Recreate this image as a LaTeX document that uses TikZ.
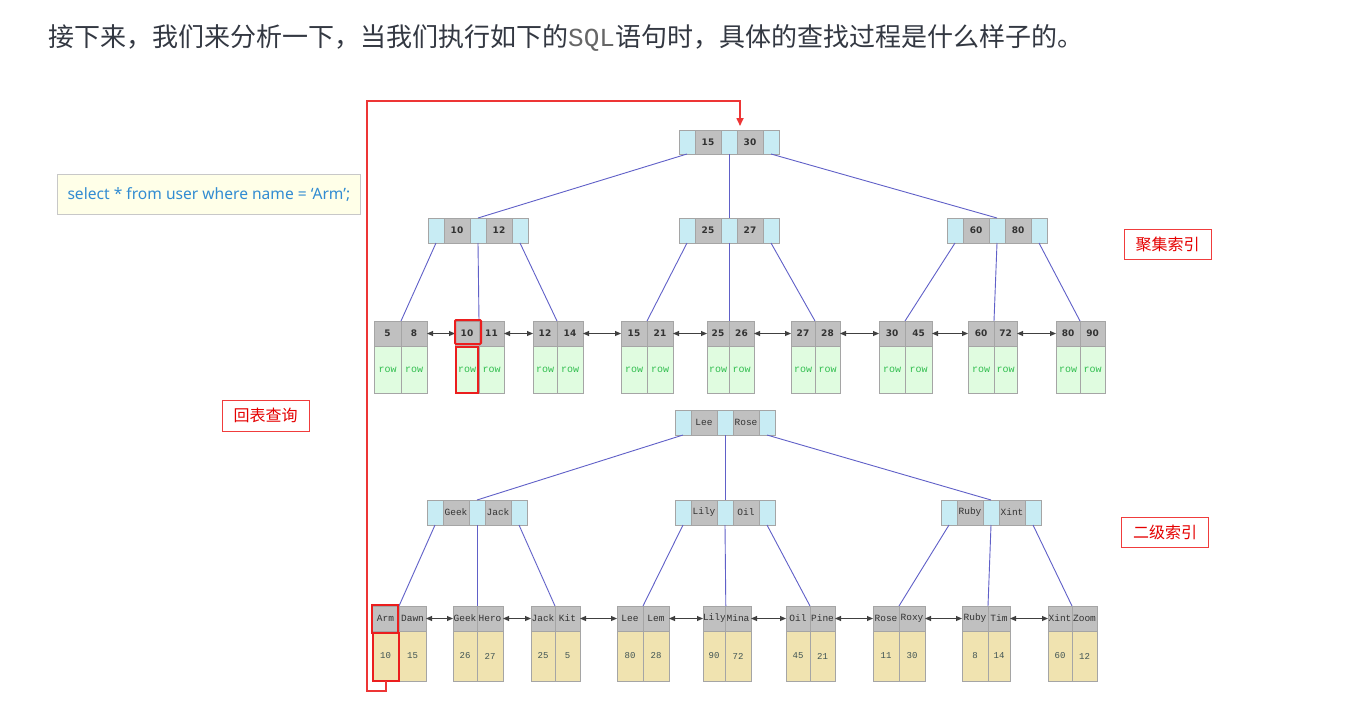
\documentclass[tikz,border=0pt]{standalone}
\usepackage{fontspec}
\usetikzlibrary{arrows.meta}
\newfontfamily\cjkf{Noto Sans CJK SC}
\newfontfamily\monof{Liberation Mono}
\newfontfamily\numf{DejaVu Sans}
\newfontfamily\sqlf{Noto Sans}
\definecolor{ptrblue}{RGB}{200,236,244}
\definecolor{keygray}{RGB}{192,192,192}
\definecolor{cellborder}{RGB}{165,165,165}
\definecolor{rowgreen}{RGB}{224,252,224}
\definecolor{rowtext}{RGB}{50,190,80}
\definecolor{valyellow}{RGB}{240,227,176}
\definecolor{valtext}{RGB}{64,84,84}
\definecolor{edgeblue}{RGB}{96,96,200}
\definecolor{linkgray}{RGB}{64,64,64}
\definecolor{hlred}{RGB}{235,30,30}
\definecolor{titlecol}{RGB}{51,56,66}
\definecolor{sqlfill}{RGB}{255,255,232}
\definecolor{sqlborder}{RGB}{200,200,200}
\definecolor{sqltext}{RGB}{50,140,210}
\definecolor{lblred}{RGB}{240,60,60}
\newcommand\bnode[6][]{%
  \node[ptr,#1] (#2-p0) at (#3,#4) {};
  \node[key,#1] (#2-k1) at (#2-p0.north east) {#5};
  \node[ptr,#1] (#2-p1) at (#2-k1.north east) {};
  \node[key,#1] (#2-k2) at (#2-p1.north east) {#6};
  \node[ptr,#1] (#2-p2) at (#2-k2.north east) {};
}
\newcommand\leaf[8]{%
  \node[lk, minimum width={#3-#2}, minimum height={\lmid-\ltop}] (#1-k1) at (#2,\ltop) {#5};
  \node[lk, minimum width={#4-#3}, minimum height={\lmid-\ltop}] (#1-k2) at (#3,\ltop) {#6};
  \node[lv, minimum width={#3-#2}, minimum height={\lbot-\lmid}] (#1-v1) at (#2,\lmid) {#7};
  \node[lv, minimum width={#4-#3}, minimum height={\lbot-\lmid}] (#1-v2) at (#3,\lmid) {#8};
}
\begin{document}
\begin{tikzpicture}[x=1pt,y=-1pt,
  cell/.style={draw=cellborder, line width=1pt, inner sep=0pt, outer sep=0pt, anchor=north west, minimum height=25pt},
  ptr/.style={cell, fill=ptrblue, minimum width=16pt},
  key/.style={cell, fill=keygray, minimum width=26pt},
  numtxt/.style={font=\numf\bfseries\fontsize{9}{10}\selectfont, text=black!80},
  nametxt/.style={font=\monof\fontsize{9.5}{10}\selectfont, text=black!80},
  edge/.style={draw=edgeblue, line width=0.9pt},
  dlink/.style={draw=linkgray, line width=0.9pt, {Triangle[length=6pt,width=5pt]}-{Triangle[length=6pt,width=5pt]}},
  hl/.style={draw=hlred, line width=2pt, inner sep=0pt, outer sep=0pt, anchor=north west},
  redpath/.style={draw=hlred!90!white, line width=1.6pt, -{Triangle[length=8pt,width=7pt]}},
  lbl/.style={draw=lblred, line width=0.8pt, text=red!90!black, font=\cjkf\fontsize{16}{18}\selectfont, minimum width=87pt, minimum height=30pt, inner sep=0pt},
  ]
\useasboundingbox (0,0) rectangle (1346,718);
\fill[white] (0,0) rectangle (1346,718);

% title
\node[anchor=base west, inner sep=0pt, text=titlecol, font=\cjkf\fontsize{26}{30}\selectfont] (title) at (48,46)
  {接下来，我们来分析一下，当我们执行如下的{\monof\color{black!60}SQL}语句时，具体的查找过程是什么样子的。};

% sql box
\node[anchor=north west, draw=sqlborder, fill=sqlfill, line width=0.8pt, minimum width=303pt, minimum height=40pt,
  inner sep=0pt, text=sqltext, font=\sqlf\fontsize{15.6}{18}\selectfont] (sql) at (57,174)
  {select * from user where name = ‘Arm’;};

% labels
\node[lbl] (lblc) at (1167.5,244) {聚集索引};
\node[lbl] (lbls) at (1165,532) {二级索引};
\node[lbl, minimum height=31pt] (lblh) at (265.5,415.5) {回表查询};

% clustered index internal nodes
\bnode[numtxt, minimum height=24pt]{cr}{679}{130}{15}{30}
\bnode[numtxt]{ca}{428}{218}{10}{12}
\bnode[numtxt]{cb}{679}{218}{25}{27}
\bnode[numtxt]{cc}{947}{218}{60}{80}

% clustered leaves
\def\ltop{321}\def\lmid{346}\def\lbot{393}
\tikzset{lk/.style={cell, fill=keygray, numtxt},
         lv/.style={cell, fill=rowgreen, font=\monof\fontsize{10}{11}\selectfont, text=rowtext}}
\leaf{c1}{374}{401}{427}{5}{8}{row}{row}
\leaf{c2}{455}{479}{504}{10}{11}{row}{row}
\leaf{c3}{533}{557}{583}{12}{14}{row}{row}
\leaf{c4}{621}{647}{673}{15}{21}{row}{row}
\leaf{c5}{707}{729}{754}{25}{26}{row}{row}
\leaf{c6}{791}{815}{840}{27}{28}{row}{row}
\leaf{c7}{879}{905}{932}{30}{45}{row}{row}
\leaf{c8}{968}{994}{1017}{60}{72}{row}{row}
\leaf{c9}{1056}{1080}{1105}{80}{90}{row}{row}

% secondary index internal nodes
\bnode[nametxt]{sr}{675}{410}{Lee}{Rose}
\bnode[nametxt]{sa}{427}{500}{Geek}{Jack}
\bnode[nametxt]{sb}{675}{500}{Lily}{Oil}
\bnode[nametxt]{sc}{941}{500}{Ruby}{Xint}

% secondary leaves
\def\ltop{606}\def\lmid{631}\def\lbot{681}
\tikzset{lk/.style={cell, fill=keygray, nametxt},
         lv/.style={cell, fill=valyellow, font=\monof\fontsize{9}{10}\selectfont, text=valtext}}
\leaf{s1}{372}{399}{426}{Arm}{Dawn}{10}{15}
\leaf{s2}{453}{477}{503}{Geek}{Hero}{26}{27}
\leaf{s3}{531}{555}{580}{Jack}{Kit}{25}{5}
\leaf{s4}{617}{643}{669}{Lee}{Lem}{80}{28}
\leaf{s5}{703}{725}{751}{Lily}{Mina}{90}{72}
\leaf{s6}{786}{810}{835}{Oil}{Pine}{45}{21}
\leaf{s7}{873}{899}{925}{Rose}{Roxy}{11}{30}
\leaf{s8}{962}{988}{1010}{Ruby}{Tim}{8}{14}
\leaf{s9}{1048}{1072}{1097}{Xint}{Zoom}{60}{12}

% tree edges
\foreach \r/\a/\b/\c in {cr/ca/cb/cc, sr/sa/sb/sc}{
  \draw[edge] (\r-p0.south) -- (\a-p1.north);
  \draw[edge] (\r-p1.south) -- (\b-p1.north);
  \draw[edge] (\r-p2.south) -- (\c-p1.north);
}
\foreach \n/\x/\y/\z in {ca/c1/c2/c3, cb/c4/c5/c6, cc/c7/c8/c9, sa/s1/s2/s3, sb/s4/s5/s6, sc/s7/s8/s9}{
  \draw[edge] (\n-p0.south) -- (\x-k1.north east);
  \draw[edge] (\n-p1.south) -- (\y-k1.north east);
  \draw[edge] (\n-p2.south) -- (\z-k1.north east);
}

% leaf links
\foreach \p/\q in {c1/c2,c2/c3,c3/c4,c4/c5,c5/c6,c6/c7,c7/c8,c8/c9,s1/s2,s2/s3,s3/s4,s4/s5,s5/s6,s6/s7,s7/s8,s8/s9}{
  \draw[dlink] (\p-k2.east) -- (\q-k1.west);
}

% highlights
\node[hl, rounded corners=1pt, minimum width=26pt, minimum height=24pt] (hc1) at (455,320) {};
\node[hl, minimum width=22pt, minimum height=46pt] (hc2) at (456,347) {};
\node[hl, minimum width=26pt, minimum height=28pt] (hs1) at (372,605) {};
\node[hl, minimum width=26pt, minimum height=48pt] (hs2) at (373,633) {};

% back-to-table path
\coordinate (turn) at (367,101);
\coordinate (rtop) at (740,126);
\draw[redpath] (hs2.south) -- ++(0,10) -| (turn) -| (rtop);
\end{tikzpicture}
\end{document}
